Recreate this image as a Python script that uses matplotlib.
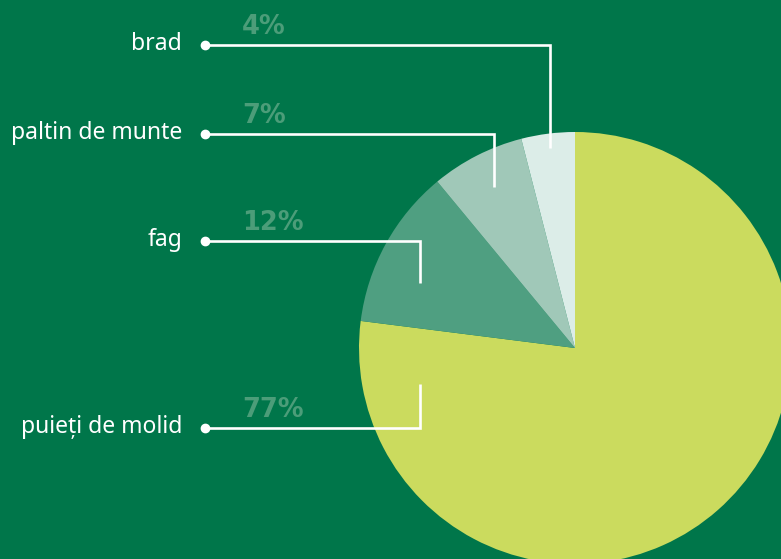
import matplotlib.pyplot as plt

# data
labels = ['puieți de molid', 'fag', 'paltin de munte', 'brad']
shares = [77, 12, 7, 4]
colors = ['#cbdb5e', '#4f9f81', '#a0c8b8', '#dcede8']

# leader layout in pixel coords (y measured from top)
label_y = [428, 241, 134, 45]
elbow_x = [420, 420, 494, 550]
elbow_end_y = [384, 283, 187, 148]

W, H = 781, 559
bg = '#00764a'
pct_color = '#4c9d79'

fig = plt.figure(figsize=(W / 100, H / 100), dpi=100, facecolor=bg)
ax = fig.add_axes([0, 0, 1, 1])
ax.set_facecolor(bg)

ax.pie(shares, colors=colors, startangle=90, counterclock=False,
       center=(575, H - 348), radius=216,
       wedgeprops=dict(linewidth=0))
ax.set_xlim(0, W)
ax.set_ylim(0, H)
ax.set_aspect('equal')
ax.axis('off')

for lab, val, ly, ex, ey in zip(labels, shares, label_y, elbow_x, elbow_end_y):
    y = H - ly
    ax.plot([205, ex, ex], [y, y, H - ey], color='white', lw=1.9,
            solid_joinstyle='miter', solid_capstyle='butt', zorder=5)
    ax.plot(205, y, 'o', color='white', ms=6, zorder=6)
    ax.text(182, y + 1, lab, ha='right', va='center', color='white',
            fontsize=16.5, family='Noto Sans')
    ax.text(242, y + 11, f'{val}%', ha='left', va='baseline', color=pct_color,
            fontsize=18.5, fontweight='bold', family='DejaVu Sans')

fig.savefig('out.png', dpi=100, facecolor=bg)
